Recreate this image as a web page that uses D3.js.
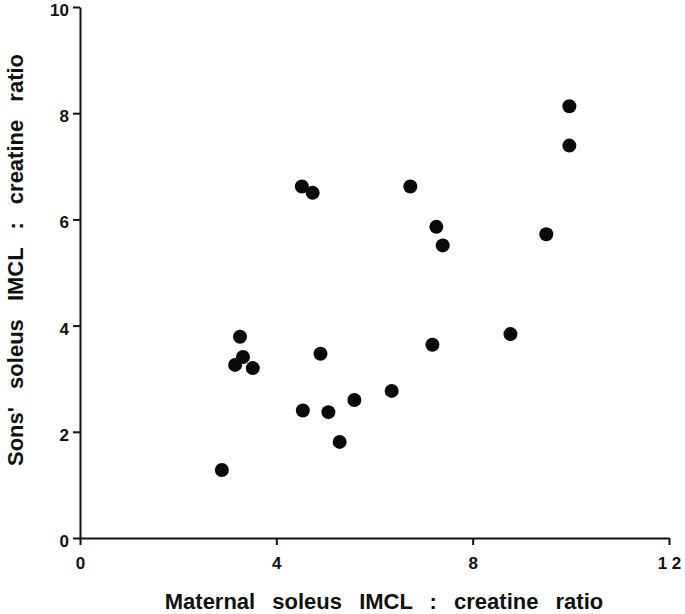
<!DOCTYPE html>
<html>
<head>
<meta charset="utf-8">
<script src="https://cdn.jsdelivr.net/npm/d3@7"></script>
<style>
  body { margin: 0; background: #fff; }
  svg text { font-family: "Liberation Sans", Arial, sans-serif; font-weight: bold; fill: #111; }
</style>
</head>
<body>
<div id="chart"></div>
<script>
// maternal soleus IMCL:creatine (x) vs sons' soleus IMCL:creatine (y)
var maternal = [2.89, 3.26, 3.32, 3.16, 3.52, 4.52, 4.74, 6.73, 7.26, 7.39, 4.90,
                7.18, 4.54, 5.06, 5.59, 6.35, 5.29, 9.50, 9.97, 9.97, 8.77];
var sons = [1.28, 3.79, 3.41, 3.26, 3.20, 6.62, 6.50, 6.62, 5.86, 5.51, 3.47,
            3.64, 2.40, 2.37, 2.60, 2.77, 1.81, 5.72, 8.13, 7.39, 3.84];
var xTicks = [0, 4, 8, 12];
var xTickLabels = ["0", "4", "8", "1 2"];
var yTicks = [0, 2, 4, 6, 8, 10];

var W = 685, H = 614;
var svg = d3.select('#chart').append('svg')
  .attr('width', W)
  .attr('height', H);

var x = d3.scaleLinear().domain([0, 12]).range([80, 669]);
var y = d3.scaleLinear().domain([0, 10]).range([538, 7]);

var data = maternal.map(function (m, i) { return { x: m, y: sons[i] }; });

// x axis
var xAxis = svg.append('g')
  .attr('transform', 'translate(0,' + y(0) + ')')
  .call(d3.axisBottom(x).tickValues(xTicks).tickSize(-7).tickSizeOuter(0)
    .tickFormat(function (d, i) { return xTickLabels[i]; }));
xAxis.select('.domain').attr('stroke', '#111').attr('stroke-width', 2);
xAxis.selectAll('.tick line').attr('stroke', '#111').attr('stroke-width', 2)
  .attr('y2', 7);
xAxis.selectAll('.tick text').attr('y', 19).attr('dy', '0.71em')
  .style('font-size', '17px');

// y axis
var yAxis = svg.append('g')
  .attr('transform', 'translate(' + x(0) + ',0)')
  .call(d3.axisLeft(y).tickValues(yTicks).tickSize(7).tickSizeOuter(0));
yAxis.select('.domain').attr('stroke', '#111').attr('stroke-width', 2);
yAxis.selectAll('.tick line').attr('stroke', '#111').attr('stroke-width', 2);
yAxis.selectAll('.tick text').attr('x', -11).attr('y', 3).style('font-size', '17px');

// axis titles
svg.append('text')
  .attr('x', 384)
  .attr('y', 609)
  .attr('text-anchor', 'middle')
  .style('font-size', '22px')
  .style('word-spacing', '11px')
  .text('Maternal soleus IMCL : creatine ratio');

svg.append('text')
  .attr('transform', 'translate(23,260) rotate(-90)')
  .attr('text-anchor', 'middle')
  .style('font-size', '22px')
  .style('word-spacing', '12px')
  .text("Sons' soleus IMCL : creatine ratio");

// points
svg.selectAll('circle').data(data)
  .enter().append('circle')
  .attr('cx', function (d) { return x(d.x); })
  .attr('cy', function (d) { return y(d.y); })
  .attr('r', 7)
  .attr('fill', '#0a0a0a');
</script>
</body>
</html>
